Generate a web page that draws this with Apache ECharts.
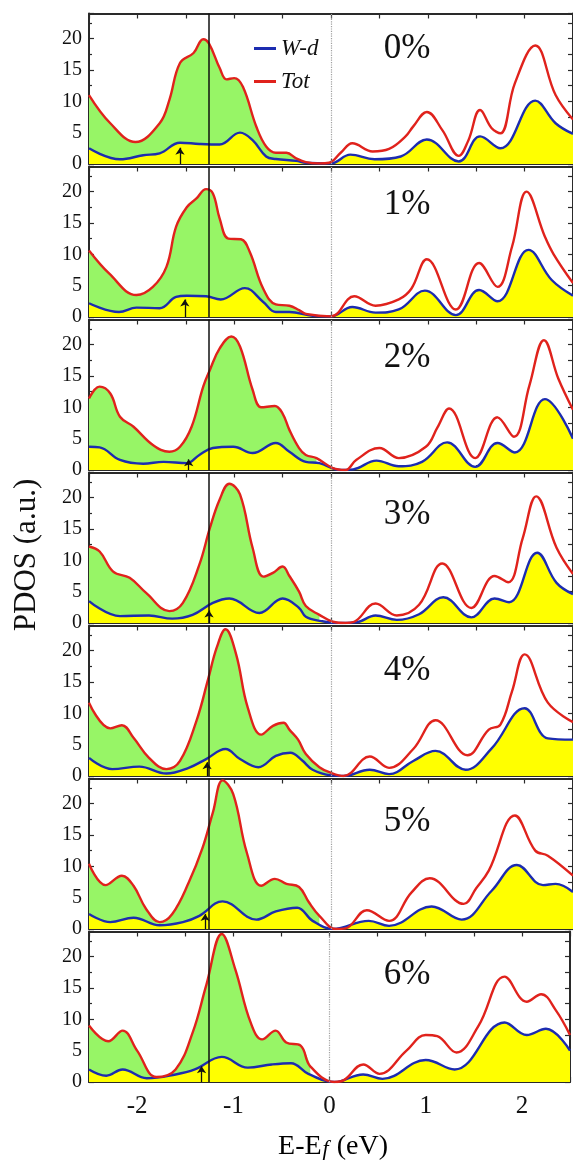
<!DOCTYPE html>
<html>
<head>
<meta charset="utf-8">
<script src="https://cdn.jsdelivr.net/npm/echarts@6/dist/echarts.min.js"></script>
<style>
  html, body { margin: 0; padding: 0; background: #fff; overflow: hidden; }
  #chart { width: 573px; height: 1168px; }
</style>
</head>
<body>
<div id="chart"></div>
<script>
// ---- Data: projected DOS vs. energy for each strain level ([E - Ef (eV), PDOS]) ----
const strainLabels = ['0%', '1%', '2%', '3%', '4%', '5%', '6%'];

const tot0 = [[-2.5,11.0],[-2.28,6.5],[-2.02,3.5],[-1.77,6.5],[-1.67,10.2],[-1.56,16.1],[-1.42,17.7],[-1.32,19.9],[-1.26,19.2],[-1.15,15.3],[-1.08,13.5],[-1.0,13.7],[-0.91,12.3],[-0.77,5.9],[-0.67,2.8],[-0.57,1.8],[-0.46,1.8],[-0.36,0.9],[-0.26,0.3],[-0.12,0.1],[-0.02,0.2],[0.1,1.8],[0.22,3.3],[0.43,2.0],[0.6,2.4],[0.77,4.4],[0.85,6.0],[0.99,8.3],[1.15,5.4],[1.32,1.3],[1.42,3.8],[1.54,8.6],[1.66,5.7],[1.75,4.9],[1.9,12.9],[2.11,18.9],[2.32,11.0],[2.5,7.1]];
const wd0 = [[-2.5,2.5],[-2.18,0.75],[-1.94,1.4],[-1.77,1.7],[-1.56,3.4],[-1.36,3.2],[-1.15,3.1],[-0.94,5.0],[-0.81,3.8],[-0.67,1.2],[-0.57,0.8],[-0.36,0.5],[-0.26,0.2],[0,0.1],[0.2,1.5],[0.45,0.75],[0.72,1.2],[0.99,3.9],[1.32,0.4],[1.54,4.4],[1.75,2.5],[2.11,10.1],[2.32,6.5],[2.5,4.8]];

const tot1 = [[-2.5,10.6],[-2.29,6.9],[-2.01,3.5],[-1.84,4.8],[-1.7,8.0],[-1.6,14.4],[-1.49,17.5],[-1.39,18.9],[-1.29,20.4],[-1.22,19.7],[-1.15,15.7],[-1.06,12.5],[-0.93,12.4],[-0.84,10.4],[-0.7,4.5],[-0.57,2.0],[-0.43,1.8],[-0.33,1.1],[-0.26,0.5],[0,0.1],[0.24,3.3],[0.46,1.8],[0.7,2.8],[0.83,4.5],[0.99,9.2],[1.29,1.2],[1.53,8.6],[1.72,4.8],[1.87,11.2],[2.02,20.0],[2.21,12.8],[2.3,10.0],[2.5,5.4]];
const wd1 = [[-2.5,2.2],[-2.19,0.8],[-2.01,1.5],[-1.77,1.4],[-1.6,3.2],[-1.49,3.4],[-1.29,3.3],[-1.14,2.8],[-0.89,4.6],[-0.7,2.4],[-0.57,0.8],[-0.43,0.8],[-0.19,0.2],[0,0.1],[0.22,1.6],[0.46,0.7],[0.7,1.2],[0.97,4.2],[1.29,0.3],[1.53,4.3],[1.72,2.5],[2.04,10.7],[2.28,5.9],[2.5,3.4]];

const tot2 = [[-2.5,11.4],[-2.39,13.3],[-2.28,12.2],[-2.18,8.5],[-2.04,6.9],[-1.84,4.0],[-1.67,2.9],[-1.56,3.7],[-1.44,6.9],[-1.32,13.3],[-1.25,16.0],[-1.15,19.4],[-1.03,21.3],[-0.94,19.7],[-0.81,12.8],[-0.72,10.0],[-0.58,10.2],[-0.5,9.0],[-0.43,6.4],[-0.33,3.5],[-0.26,2.4],[-0.15,1.9],[0.02,0.3],[0.15,0],[0.26,1.6],[0.5,3.5],[0.7,1.9],[0.98,3.7],[1.1,6.8],[1.22,9.8],[1.49,1.9],[1.72,8.4],[1.89,5.3],[2.05,13.5],[2.2,20.7],[2.35,14.5],[2.5,9.6]];
const wd2 = [[-2.5,3.7],[-2.39,3.6],[-2.18,1.6],[-1.94,1.0],[-1.73,1.3],[-1.49,1.1],[-1.36,2.4],[-1.22,3.5],[-1.01,3.7],[-0.81,2.7],[-0.57,4.3],[-0.43,2.9],[-0.26,1.3],[-0.12,1.1],[0.1,0],[0.23,0.1],[0.47,1.5],[0.7,0.6],[0.94,1.3],[1.2,4.4],[1.49,0.5],[1.72,4.3],[1.9,2.8],[2.21,11.3],[2.5,5.0]];

const tot3 = [[-2.5,12.2],[-2.39,11.4],[-2.25,8.2],[-2.08,7.2],[-1.91,4.8],[-1.67,1.9],[-1.53,3.2],[-1.36,9.3],[-1.25,15.2],[-1.15,19.7],[-1.05,22.2],[-0.94,20.5],[-0.81,12.0],[-0.7,7.4],[-0.6,8.0],[-0.5,9.0],[-0.43,7.5],[-0.33,5.0],[-0.26,2.7],[-0.12,1.3],[0.02,0.2],[0.15,0],[0.24,0.2],[0.46,3.1],[0.68,1.2],[0.91,2.9],[1.15,9.5],[1.45,2.4],[1.69,7.5],[1.83,6.5],[1.98,13.5],[2.12,20.2],[2.33,12.0],[2.5,7.8]];
const wd3 = [[-2.5,3.5],[-2.18,1.1],[-1.88,1.2],[-1.64,0.7],[-1.43,1.3],[-1.22,3.2],[-1.05,3.9],[-0.74,1.6],[-0.5,3.9],[-0.33,2.4],[-0.26,1.0],[-0.1,0.3],[0.05,0],[0.26,0.1],[0.46,1.2],[0.68,0.5],[0.91,1.4],[1.16,4.1],[1.45,0.9],[1.69,3.9],[1.84,3.3],[2.13,11.2],[2.33,6.4],[2.5,4.6]];

const tot4 = [[-2.5,11.7],[-2.28,7.6],[-2.16,8.1],[-2.04,6.1],[-1.88,2.9],[-1.7,1.1],[-1.56,2.4],[-1.39,8.8],[-1.27,15.4],[-1.18,20.5],[-1.09,23.4],[-0.98,19.4],[-0.86,10.9],[-0.72,6.6],[-0.6,8.0],[-0.49,8.5],[-0.43,7.4],[-0.34,5.8],[-0.26,3.5],[-0.12,1.4],[0,0.5],[0.13,0],[0.4,3.1],[0.6,1.3],[0.85,4.3],[1.08,8.9],[1.41,3.3],[1.63,7.4],[1.75,8.2],[1.87,13.5],[2.0,19.4],[2.24,11.7],[2.5,8.6]];
const wd4 = [[-2.5,2.9],[-2.26,1.1],[-1.98,1.5],[-1.7,0.4],[-1.47,1.3],[-1.29,2.7],[-1.09,4.3],[-0.94,2.7],[-0.75,1.4],[-0.57,3.2],[-0.42,3.7],[-0.3,2.5],[-0.19,1.0],[0,0.1],[0.13,0],[0.4,1.0],[0.6,0.3],[0.85,2.4],[1.08,4.0],[1.39,1.0],[1.66,4.4],[2.0,10.8],[2.24,6.0],[2.5,5.8]];

const tot5 = [[-2.5,10.4],[-2.33,7.0],[-2.16,8.5],[-2.04,6.9],[-1.91,3.2],[-1.77,1.1],[-1.64,2.4],[-1.47,7.4],[-1.33,12.8],[-1.22,18.6],[-1.12,23.7],[-1.01,21.5],[-0.87,12.2],[-0.72,6.9],[-0.58,8.0],[-0.46,7.2],[-0.33,6.7],[-0.23,4.3],[-0.12,2.1],[0.05,0],[0.15,0.1],[0.37,3.0],[0.6,1.3],[0.83,5.8],[1.02,8.1],[1.37,4.0],[1.5,6.5],[1.63,9.3],[1.9,18.1],[2.11,12.5],[2.24,11.7],[2.5,8.5]];
const wd5 = [[-2.5,2.4],[-2.28,1.1],[-2.04,1.8],[-1.77,0.6],[-1.53,1.1],[-1.36,2.1],[-1.12,4.4],[-0.77,1.5],[-0.57,2.8],[-0.35,3.4],[-0.19,1.3],[0.02,0],[0.39,1.3],[0.6,0.5],[1.04,3.6],[1.35,1.5],[1.66,6.1],[1.92,10.2],[2.19,7.0],[2.32,7.2],[2.5,5.9]];

const tot6 = [[-2.5,9.0],[-2.3,6.5],[-2.15,8.2],[-2.0,5.0],[-1.8,0.8],[-1.6,2.0],[-1.42,8.0],[-1.28,15.5],[-1.12,23.6],[-0.98,18.0],[-0.82,9.5],[-0.7,6.8],[-0.56,8.2],[-0.45,6.3],[-0.3,5.8],[-0.2,2.5],[0.05,0],[0.15,0.3],[0.35,2.8],[0.52,1.3],[0.8,5.0],[1.0,7.5],[1.12,7.3],[1.32,4.7],[1.55,9.0],[1.82,16.8],[2.05,12.8],[2.2,14.0],[2.35,11.5],[2.5,7.5]];
const wd6 = [[-2.5,2.0],[-2.32,1.0],[-2.15,2.0],[-1.9,0.6],[-1.6,1.2],[-1.4,2.0],[-1.12,4.0],[-0.85,2.3],[-0.6,2.8],[-0.4,3.0],[-0.22,1.3],[0.05,0],[0.35,1.2],[0.55,0.5],[1.0,3.5],[1.3,2.0],[1.82,9.5],[2.05,7.5],[2.25,8.5],[2.5,5.0]];

const totCurves = [tot0, tot1, tot2, tot3, tot4, tot5, tot6];
const wdCurves = [wd0, wd1, wd2, wd3, wd4, wd5, wd6];

// reference energy (vertical guide) and band-edge arrows per strain
const markerX = -1.26;
const arrowX = [-1.56, -1.51, -1.47, -1.26, -1.28, -1.30, -1.33];
const arrowTop = [2.6, 2.8, 1.7, 2.0, 2.2, 2.4, 2.5];

const xTickLabels = [-2, -1, 0, 1, 2];
const yTickLabels = [0, 5, 10, 15, 20];

// ---- Layout ----
const LEFT = 89, PLOT_W = 484, TOP0 = 13.5, STEP = 153, PANEL_H = 150.5;
const LABEL_X = 407;
const labelDy = [35, 38.5, 38, 42.5, 45, 43, 43.5];
const FONT = 'Liberation Serif';
const INK = '#111';
const FRAME = { color: '#2a2a2a', width: 2 };
const TICK = { color: '#2a2a2a', width: 1.2 };
const RED = '#e0221c', BLUE = '#1c2cb0', GREEN = '#97f566', YELLOW = '#ffff00';
const SMOOTH = 0.4;

const grids = [], xAxes = [], yAxes = [], series = [], graphics = [];
const last = totCurves.length - 1;

totCurves.forEach((tot, i) => {
  const wd = wdCurves[i];
  const top = TOP0 + STEP * i;
  grids.push({ left: LEFT, top: top, width: PLOT_W, height: PANEL_H });

  const xBase = {
    gridIndex: i, type: 'value', min: -2.5, max: 2.5, interval: 0.5,
    splitLine: { show: false },
    axisLine: { show: true, onZero: false, lineStyle: FRAME },
    axisTick: { show: true, inside: true, length: 5, lineStyle: TICK }
  };
  xAxes.push(Object.assign({}, xBase, {
    position: 'bottom',
    axisLabel: {
      show: i === last, margin: 12, fontFamily: FONT, fontSize: 25, color: INK,
      formatter: v => xTickLabels.includes(Math.round(v * 10) / 10) ? String(Math.round(v)) : ''
    }
  }));
  xAxes.push(Object.assign({}, xBase, { position: 'top', axisLabel: { show: false } }));

  yAxes.push({
    gridIndex: i, type: 'value', position: 'left', min: 0, max: 24, interval: 5,
    splitLine: { show: false },
    axisLine: { show: true, onZero: false, lineStyle: FRAME },
    axisTick: { show: true, inside: true, length: 5, lineStyle: TICK },
    minorTick: { show: true, splitNumber: 2, length: 3, lineStyle: TICK },
    axisLabel: {
      margin: 7, fontFamily: FONT, fontSize: 20, color: INK, showMaxLabel: false,
      formatter: v => yTickLabels.includes(v) ? String(v) : ''
    }
  });
  yAxes.push({
    gridIndex: i, type: 'value', position: 'right', min: 0, max: 24, interval: 2.5,
    splitLine: { show: false },
    axisLine: { show: true, onZero: false, lineStyle: FRAME },
    axisTick: { show: true, inside: true, length: 5, lineStyle: TICK },
    axisLabel: { show: false }
  });

  const xi = 2 * i, yi = 2 * i;
  const common = { type: 'line', xAxisIndex: xi, yAxisIndex: yi, smooth: SMOOTH, symbol: 'none', silent: true, animation: false };

  // occupied states (E < Ef) of the total DOS
  series.push(Object.assign({}, common, {
    name: 'occupied', data: tot.filter(p => p[0] <= 0),
    lineStyle: { width: 0 }, areaStyle: { color: GREEN, opacity: 1 }, z: 1
  }));
  // W-d fill
  series.push(Object.assign({}, common, {
    name: 'W-d fill', data: wd,
    lineStyle: { width: 0 }, areaStyle: { color: YELLOW, opacity: 1 }, z: 2
  }));
  // W-d curve
  series.push(Object.assign({}, common, {
    name: 'W-d', data: wd, z: 3,
    itemStyle: { color: BLUE }, lineStyle: { color: BLUE, width: 2.4 }
  }));
  // total DOS curve with guides
  series.push(Object.assign({}, common, {
    name: 'Tot', data: tot, z: 4,
    itemStyle: { color: RED }, lineStyle: { color: RED, width: 2.4 },
    markLine: {
      silent: true, animation: false, symbol: ['none', 'none'], label: { show: false },
      data: [
        { xAxis: 0, lineStyle: { color: '#a0a0a0', width: 1.2, type: 'dotted' } },
        { xAxis: markerX, lineStyle: { color: INK, width: 1.5, type: 'solid' } },
        [
          { coord: [arrowX[i], 0], symbol: 'none', lineStyle: { color: INK, width: 1.3, type: 'solid' } },
          { coord: [arrowX[i], arrowTop[i]], symbol: 'arrow', symbolSize: 7, lineStyle: { color: INK, width: 1.3, type: 'solid' } }
        ]
      ]
    }
  }));

  graphics.push({
    type: 'text', x: LABEL_X, y: top + labelDy[i], z: 10,
    style: {
      text: strainLabels[i], fill: INK, font: '35px "Liberation Serif"',
      align: 'center', verticalAlign: 'middle', textAlign: 'center', textVerticalAlign: 'middle'
    }
  });
});

// axis titles
graphics.push({
  type: 'text', x: 27, y: 555, rotation: Math.PI / 2, z: 10,
  style: {
    text: 'PDOS (a.u.)', fill: INK, font: '31px "Liberation Serif"',
    align: 'center', verticalAlign: 'middle', textAlign: 'center', textVerticalAlign: 'middle'
  }
});
graphics.push({
  type: 'text', x: 333, y: 1147, z: 10,
  style: {
    text: '{a|E-E}{b|f}{a| (eV)}',
    rich: {
      a: { fontFamily: FONT, fontSize: 28, color: INK },
      b: { fontFamily: FONT, fontSize: 22, fontStyle: 'italic', color: INK, padding: [5, 1, 0, 1] }
    },
    align: 'center', verticalAlign: 'middle', textAlign: 'center', textVerticalAlign: 'middle'
  }
});

const chart = echarts.init(document.getElementById('chart'), null, { renderer: 'canvas' });
chart.setOption({
  animation: false,
  backgroundColor: '#fff',
  grid: grids,
  xAxis: xAxes,
  yAxis: yAxes,
  legend: {
    data: ['W-d', 'Tot'], orient: 'vertical', left: 249, top: 32,
    icon: 'rect', itemWidth: 22, itemHeight: 3, itemGap: 10,
    selectedMode: false,
    textStyle: { fontFamily: FONT, fontStyle: 'italic', fontSize: 23, color: INK }
  },
  series: series,
  graphic: graphics
});
</script>
</body>
</html>
